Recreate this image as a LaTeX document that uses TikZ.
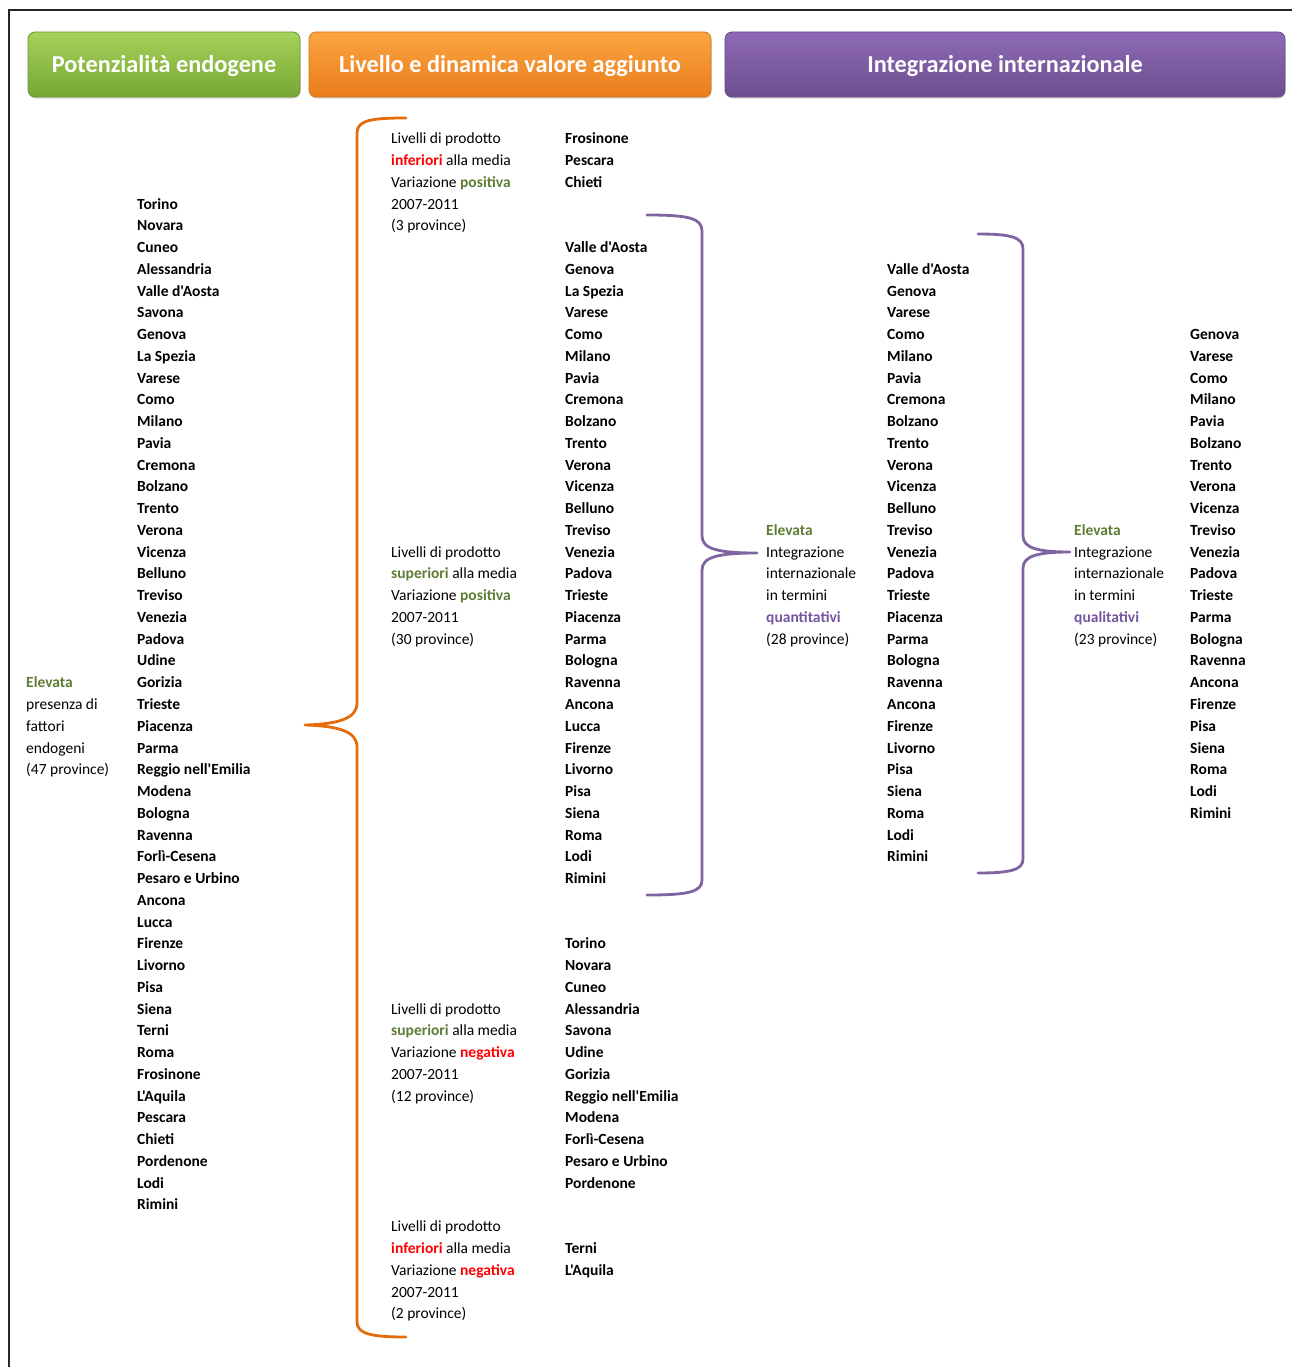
\documentclass[tikz,border=0pt]{standalone}
\usepackage{fontspec}
\setmainfont{Carlito}[Ligatures=TeXOff]
\usetikzlibrary{shadows}
\definecolor{olv}{HTML}{5F7D35}
\definecolor{rd}{HTML}{FF0000}
\definecolor{pur}{HTML}{7555A0}
\definecolor{obr}{HTML}{E46C0A}
\definecolor{pbr}{HTML}{8064A2}
\begin{document}
\begin{tikzpicture}[x=1pt,y=-1pt,
  txt/.style={anchor=base west, inner sep=0pt, font=\fontsize{15.5}{18}\selectfont},
  prov/.style={txt, font=\fontsize{15.5}{18}\selectfont\bfseries},
  hdr/.style={rounded corners=7pt, minimum height=65pt, text=white,
    font=\fontsize{24.3}{28}\selectfont\bfseries, text height=15.6pt, text depth=0pt,
    inner sep=0pt, line width=0.8pt,
    drop shadow={shadow xshift=0.6pt, shadow yshift=-1.6pt, opacity=0.35}},
  bracestyle/.style={line width=2.8pt, line cap=round, line join=round}]
\useasboundingbox (0,0) rectangle (1292,1367);
\fill[white] (0,0) rectangle (1292,1367);
\draw[line width=1.3pt, black!85] (1292,10) -- (9,10) -- (9,1367);

% headers
\node[hdr, draw={rgb,255:red,110;green,150;blue,45}, top color={rgb,255:red,165;green,210;blue,90}, bottom color={rgb,255:red,118;green,166;blue,52}, minimum width=272pt] (h1) at (164,64.5) {Potenzialità endogene};
\node[hdr, draw={rgb,255:red,215;green,115;blue,25}, top color={rgb,255:red,251;green,165;blue,65}, bottom color={rgb,255:red,234;green,124;blue,28}, minimum width=402pt] (h2) at (510,64.5) {Livello e dinamica valore aggiunto};
\node[hdr, draw={rgb,255:red,100;green,72;blue,135}, top color={rgb,255:red,142;green,106;blue,182}, bottom color={rgb,255:red,108;green,78;blue,142}, minimum width=560pt] (h3) at (1005,64.5) {Integrazione internazionale};

% column 1
\foreach \t [count=\i from 0] in {{\textcolor{olv}{\bfseries Elevata}}, presenza di, fattori, endogeni, {(47 province)}}
  \node[txt] (c1-\i) at (26,{209+21.76*(\i+22)}) {\t};

% column 2
\foreach \p [count=\i from 0] in {Torino,Novara,Cuneo,Alessandria,Valle d'Aosta,Savona,Genova,La Spezia,Varese,Como,Milano,Pavia,Cremona,Bolzano,Trento,Verona,Vicenza,Belluno,Treviso,Venezia,Padova,Udine,Gorizia,Trieste,Piacenza,Parma,Reggio nell'Emilia,Modena,Bologna,Ravenna,Forlì-Cesena,Pesaro e Urbino,Ancona,Lucca,Firenze,Livorno,Pisa,Siena,Terni,Roma,Frosinone,L'Aquila,Pescara,Chieti,Pordenone,Lodi,Rimini}
  \node[prov] (c2-\i) at (137,{209+21.76*\i}) {\p};

% column 3 blocks
\foreach \t [count=\i from 0] in {Livelli di prodotto, {\textcolor{rd}{\bfseries inferiori} alla media}, {Variazione \textcolor{olv}{\bfseries positiva}}, 2007-2011, {(3 province)}}
  \node[txt] (a\i) at (391,{209+21.76*(\i-3)}) {\t};
\foreach \t [count=\i from 0] in {Livelli di prodotto, {\textcolor{olv}{\bfseries superiori} alla media}, {Variazione \textcolor{olv}{\bfseries positiva}}, 2007-2011, {(30 province)}}
  \node[txt] (b\i) at (391,{209+21.76*(\i+16)}) {\t};
\foreach \t [count=\i from 0] in {Livelli di prodotto, {\textcolor{olv}{\bfseries superiori} alla media}, {Variazione \textcolor{rd}{\bfseries negativa}}, 2007-2011, {(12 province)}}
  \node[txt] (c\i) at (391,{209+21.76*(\i+37)}) {\t};
\foreach \t [count=\i from 0] in {Livelli di prodotto, {\textcolor{rd}{\bfseries inferiori} alla media}, {Variazione \textcolor{rd}{\bfseries negativa}}, 2007-2011, {(2 province)}}
  \node[txt] (d\i) at (391,{209+21.76*(\i+47)}) {\t};

% column 4 lists
\foreach \p [count=\i from 0] in {Frosinone,Pescara,Chieti}
  \node[prov] (la\i) at (565,{209+21.76*(\i-3)}) {\p};
\foreach \p [count=\i from 0] in {Valle d'Aosta,Genova,La Spezia,Varese,Como,Milano,Pavia,Cremona,Bolzano,Trento,Verona,Vicenza,Belluno,Treviso,Venezia,Padova,Trieste,Piacenza,Parma,Bologna,Ravenna,Ancona,Lucca,Firenze,Livorno,Pisa,Siena,Roma,Lodi,Rimini}
  \node[prov] (lb\i) at (565,{209+21.76*(\i+2)}) {\p};
\foreach \p [count=\i from 0] in {Torino,Novara,Cuneo,Alessandria,Savona,Udine,Gorizia,Reggio nell'Emilia,Modena,Forlì-Cesena,Pesaro e Urbino,Pordenone}
  \node[prov] (lc\i) at (565,{209+21.76*(\i+34)}) {\p};
\foreach \p [count=\i from 0] in {Terni,L'Aquila}
  \node[prov] (ld\i) at (565,{209+21.76*(\i+48)}) {\p};

% column 5
\foreach \t [count=\i from 0] in {{\textcolor{olv}{\bfseries Elevata}}, Integrazione, internazionale, in termini, {\textcolor{pur}{\bfseries quantitativi}}, {(28 province)}}
  \node[txt] (q\i) at (766,{209+21.76*(\i+15)}) {\t};
% column 6
\foreach \p [count=\i from 0] in {Valle d'Aosta,Genova,Varese,Como,Milano,Pavia,Cremona,Bolzano,Trento,Verona,Vicenza,Belluno,Treviso,Venezia,Padova,Trieste,Piacenza,Parma,Bologna,Ravenna,Ancona,Firenze,Livorno,Pisa,Siena,Roma,Lodi,Rimini}
  \node[prov] (lq\i) at (887,{209+21.76*(\i+3)}) {\p};
% column 7
\foreach \t [count=\i from 0] in {{\textcolor{olv}{\bfseries Elevata}}, Integrazione, internazionale, in termini, {\textcolor{pur}{\bfseries qualitativi}}, {(23 province)}}
  \node[txt] (k\i) at (1074,{209+21.76*(\i+15)}) {\t};
% column 8
\foreach \p [count=\i from 0] in {Genova,Varese,Como,Milano,Pavia,Bolzano,Trento,Verona,Vicenza,Treviso,Venezia,Padova,Trieste,Parma,Bologna,Ravenna,Ancona,Firenze,Pisa,Siena,Roma,Lodi,Rimini}
  \node[prov] (lk\i) at (1190,{209+21.76*(\i+6)}) {\p};

% braces
\draw[bracestyle, obr] (406,118) .. controls (372,118) and (357,120) .. (357,133) -- (357,703)
  .. controls (357,718) and (340,724) .. (305,725)
  .. controls (340,726) and (357,732) .. (357,747) -- (357,1322)
  .. controls (357,1334) and (372,1337) .. (406,1337);
\draw[bracestyle, pbr] (647,215) .. controls (688,215) and (702,218) .. (702,231) -- (702,536)
  .. controls (702,549) and (718,553) .. (757,553)
  .. controls (718,553) and (702,557) .. (702,570) -- (702,880)
  .. controls (702,892) and (688,895) .. (647,895);
\draw[bracestyle, pbr] (978,234) .. controls (1010,234) and (1023,237) .. (1023,249) -- (1023,536)
  .. controls (1023,548) and (1038,552) .. (1070,552)
  .. controls (1038,552) and (1023,556) .. (1023,568) -- (1023,859)
  .. controls (1023,870) and (1010,873) .. (978,873);
\end{tikzpicture}
\end{document}
